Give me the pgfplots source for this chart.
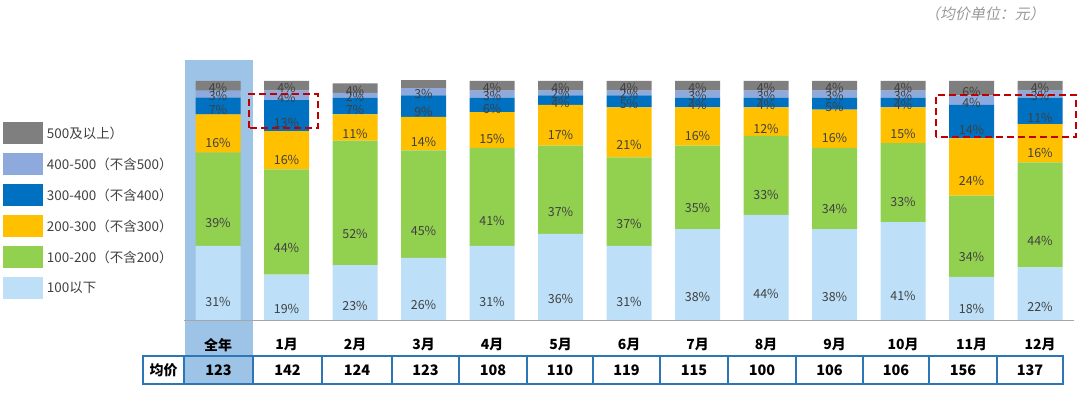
\documentclass[border=0pt]{standalone}
\usepackage{pgfplots}
\pgfplotsset{compat=1.18}
\usepackage{pgfplotstable}
\usepackage{fontspec}
\setmainfont{Noto Sans CJK SC}
\newfontfamily\cjkit[FakeSlant=0.2]{Noto Sans CJK SC}
\definecolor{cA}{HTML}{BDDFF8}
\definecolor{cB}{HTML}{92D050}
\definecolor{cC}{HTML}{FFC000}
\definecolor{cD}{HTML}{0070C0}
\definecolor{cE}{HTML}{8EA9DB}
\definecolor{cF}{HTML}{7F7F7F}
\definecolor{hl}{HTML}{9DC3E6}
\definecolor{tb}{HTML}{2E75B6}
\definecolor{txt}{HTML}{404040}
\definecolor{dred}{HTML}{C00000}

\pgfplotstableread{
x a b c d e f
0 31 39 16 7 3 4
1 19 44 16 13 4 4
2 23 52 11 7 2 4
3 26 45 14 9 3 4
4 31 41 15 6 3 4
5 36 37 17 4 2 4
6 31 37 21 5 2 4
7 38 35 16 4 3 4
8 44 33 12 4 3 4
9 38 34 16 5 3 4
10 41 33 15 4 3 4
11 18 34 24 14 4 6
12 22 44 16 11 3 4
}\data

\pgfplotsset{
  myleg/.style={legend image code/.code={\fill[##1] (0bp,-11bp) rectangle (40bp,11bp);}},
}

\begin{document}
\begin{tikzpicture}
\useasboundingbox (0bp,0bp) rectangle (1080bp,394bp);
\fill[hl] (185bp,9bp) rectangle (253bp,334bp);
\begin{axis}[
  at={(183.75bp,74bp)}, anchor=south west,
  scale only axis, width=890.5bp, height=239bp,
  ybar stacked, bar width=45bp,
  xmin=-0.5, xmax=12.5, ymin=0, ymax=100,
  axis x line*=bottom, axis y line=none,
  x axis line style={-, draw=black!35, line width=0.8bp},
  major tick length=0pt,
  /pgf/number format/assume math mode=true,
  xtick={0,...,12},
  xticklabels={全年,1月,2月,3月,4月,5月,6月,7月,8月,9月,10月,11月,12月},
  xticklabel style={font=\bfseries\fontsize{14}{14}\selectfont, text=black, anchor=center, yshift=-25bp},
  visualization depends on=rawy \as \rawy,
  nodes near coords={\pgfmathprintnumber{\rawy}\%},
  every node near coord/.append style={anchor=center, yshift=-\rawy*0.5975bp, font=\fontsize{12.5}{12.5}\selectfont, text=txt},
  legend style={at={(axis description cs:-0.203,0.828)}, anchor=north west, draw=none, fill=none,
     inner sep=0pt, outer sep=0pt, row sep=9bp, font=\fontsize{13.5}{14}\selectfont, text=txt,
     cells={anchor=west}, nodes={inner xsep=4bp}},
  reverse legend,
]
\addplot[fill=cA, draw=none, myleg] table[x=x,y=a] {\data};
\addplot[fill=cB, draw=none, myleg] table[x=x,y=b] {\data};
\addplot[fill=cC, draw=none, myleg] table[x=x,y=c] {\data};
\addplot[fill=cD, draw=none, myleg] table[x=x,y=d] {\data};
\addplot[fill=cE, draw=none, myleg] table[x=x,y=e] {\data};
\addplot[fill=cF, draw=none, myleg] table[x=x,y=f] {\data};
\legend{100以下,100-200（不含200）,200-300（不含300）,300-400（不含400）,400-500（不含500）,500及以上）}
\end{axis}
% table
\draw[tb, line width=1.3bp] (143bp,10bp) rectangle (1063bp,38bp);
\foreach \s in {184,253,322,392,459,527,593,660,728,796,863,929,997}
  \draw[tb, line width=1.3bp] (\s bp,10bp) -- (\s bp,38bp);
\node[font=\bfseries\fontsize{14}{14}\selectfont] at (163.5bp,24bp) {均价};
\foreach \c/\v in {218.5/123,287.5/142,357/124,425.5/123,493/108,560/110,626.5/119,694/115,762/100,829.5/106,896/106,963/156,1030/137}
  \node[font=\bfseries\fontsize{14.5}{14.5}\selectfont] at (\c bp,24bp) {\v};
% red dashed boxes
\draw[dred, line width=2.5bp, dash pattern=on 7bp off 4bp] (249bp,266bp) rectangle (318bp,300bp);
\draw[dred, line width=2.5bp, dash pattern=on 7bp off 4bp] (936bp,257bp) rectangle (1076bp,299bp);
% unit note
\node[font=\cjkit\fontsize{15}{15}\selectfont, text=black!40] at (985bp,380bp) {（均价单位：元）};
\end{tikzpicture}
\end{document}
